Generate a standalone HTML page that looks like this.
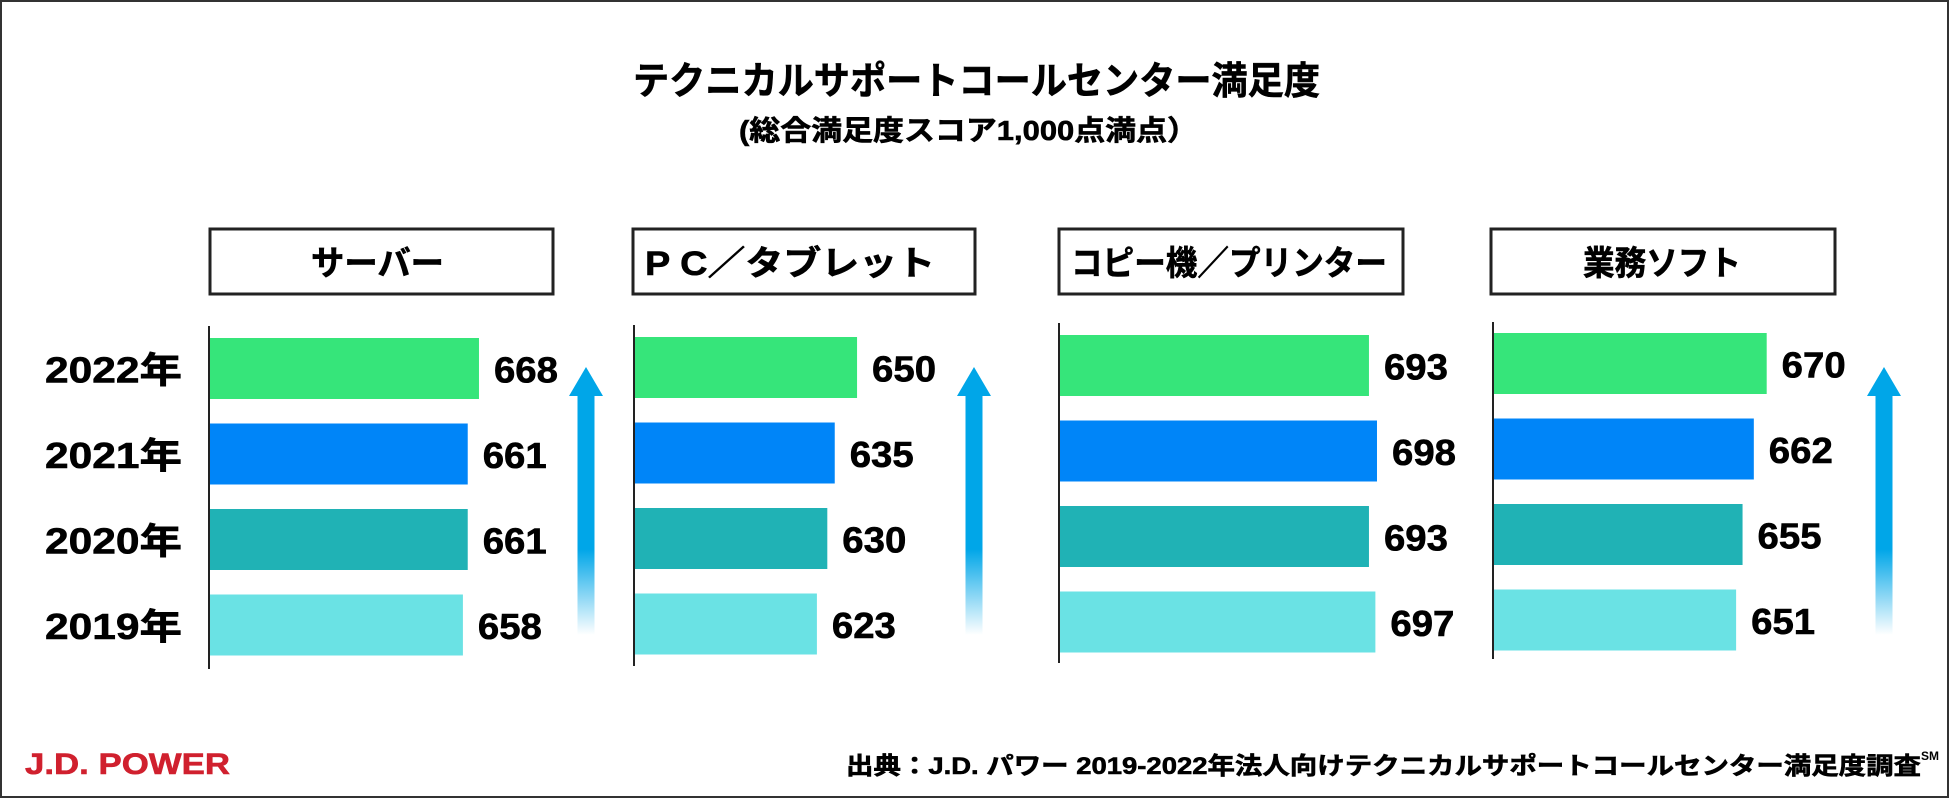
<!DOCTYPE html>
<html><head><meta charset="utf-8"><style>
html,body{margin:0;padding:0;background:#fff;}
svg{display:block;}
text{font-family:"Liberation Sans","Noto Sans CJK JP",sans-serif;font-weight:bold;fill:#000;stroke:#000;stroke-width:0.6px;}
</style></head><body>
<svg id="chart" width="1950" height="800" viewBox="0 0 1950 800" xmlns="http://www.w3.org/2000/svg">
<defs>
<linearGradient id="arrowGrad" x1="0" y1="0" x2="0" y2="1" gradientUnits="objectBoundingBox">
<stop offset="0" stop-color="#00a6e8"/><stop offset="0.68" stop-color="#00a6e8"/><stop offset="1" stop-color="#00a6e8" stop-opacity="0"/>
</linearGradient>
</defs>
<rect x="1" y="1" width="1947" height="796" fill="#fff" stroke="#333" stroke-width="2"/>
<text x="633" y="94" font-size="38" textLength="687" lengthAdjust="spacingAndGlyphs">テクニカルサポートコールセンター満足度</text>
<text x="739" y="140" font-size="28" textLength="459" lengthAdjust="spacingAndGlyphs">(総合満足度スコア1,000点満点）</text>
<g id="years"></g>
<g id="panels"></g>
<text x="25" y="774" font-size="30" style="fill:#d0202e;stroke:#d0202e" textLength="205" lengthAdjust="spacingAndGlyphs">J.D. POWER</text>
<text x="846" y="774" font-size="24" textLength="1075" lengthAdjust="spacingAndGlyphs">出典：J.D. パワー 2019-2022年法人向けテクニカルサポートコールセンター満足度調査</text>
<text x="1921" y="760" font-size="12" style="stroke-width:0">SM</text>
</svg>
<script>
const categories = ["サーバー", "P C／タブレット", "コピー機／プリンター", "業務ソフト"];
const years = ["2022年", "2021年", "2020年", "2019年"];
const scores2022 = [668, 650, 693, 670];
const scores2021 = [661, 635, 698, 662];
const scores2020 = [661, 630, 693, 655];
const scores2019 = [658, 623, 697, 651];
const axisMin = 500;

const NS = "http://www.w3.org/2000/svg";
const colors = ["#36e57a", "#0085f8", "#20b2b5", "#6ae2e4"];
const series = [scores2022, scores2021, scores2020, scores2019];
const layout = [
  {hx:210, hw:343, ht:[311,133], ax:209, top:338, ay:[326,669], scale:1.607, arrow:586},
  {hx:633, hw:342, ht:[645,290], ax:634, top:337, ay:[325,666], scale:1.487, arrow:974},
  {hx:1059, hw:344, ht:[1071,316], ax:1059, top:335, ay:[323,663], scale:1.606, arrow:null},
  {hx:1491, hw:344, ht:[1583,158], ax:1493, top:333, ay:[322,659], scale:1.61, arrow:1884}
];
const rowStep = 85.5, barH = 61;
function mk(tag, attrs, parent){const e=document.createElementNS(NS,tag);for(const k in attrs)e.setAttribute(k,attrs[k]);parent.appendChild(e);return e;}
const panels = document.getElementById('panels');
const yg = document.getElementById('years');
years.forEach((y,i)=>{
  const t = mk('text',{x:45,y:338+i*rowStep+barH/2+14,'font-size':36,textLength:137,lengthAdjust:'spacingAndGlyphs'},yg);
  
  
  t.textContent = y;
});
categories.forEach((c,p)=>{
  const L = layout[p];
  const g = mk('g',{},panels);
  
  
  const hb = mk('rect',{x:L.hx,y:229,width:L.hw,height:65,fill:'#fff',stroke:'#222','stroke-width':3},g);
  
  
  const ht = mk('text',{x:L.ht[0],y:275,'font-size':34,textLength:L.ht[1],lengthAdjust:'spacingAndGlyphs'},g);
  
  
  ht.textContent = c;
  const xs = v => L.ax + (v-axisMin)*L.scale;
  series.forEach((s,i)=>{
    const y = L.top + i*rowStep;
    const b = mk('rect',{x:L.ax,y:y,width:xs(s[p])-L.ax,height:barH,fill:colors[i]},g);
    
    
    const t = mk('text',{x:xs(s[p])+15,y:y+barH/2+14,'font-size':36,textLength:64,lengthAdjust:'spacingAndGlyphs'},g);
    
    
    t.textContent = s[p];
  });
  const ax = mk('line',{x1:L.ax,x2:L.ax,y1:L.ay[0],y2:L.ay[1],stroke:'#222','stroke-width':2},g);
  
  
  if(L.arrow!==null){
    const c0=L.arrow;
    const a = mk('path',{d:`M${c0} 367 L${c0+17} 396 L${c0+8.5} 396 L${c0+8.5} 635 L${c0-8.5} 635 L${c0-8.5} 396 L${c0-17} 396 Z`,fill:'url(#arrowGrad)'},g);
    
    
  }
});
</script>
</body></html>
